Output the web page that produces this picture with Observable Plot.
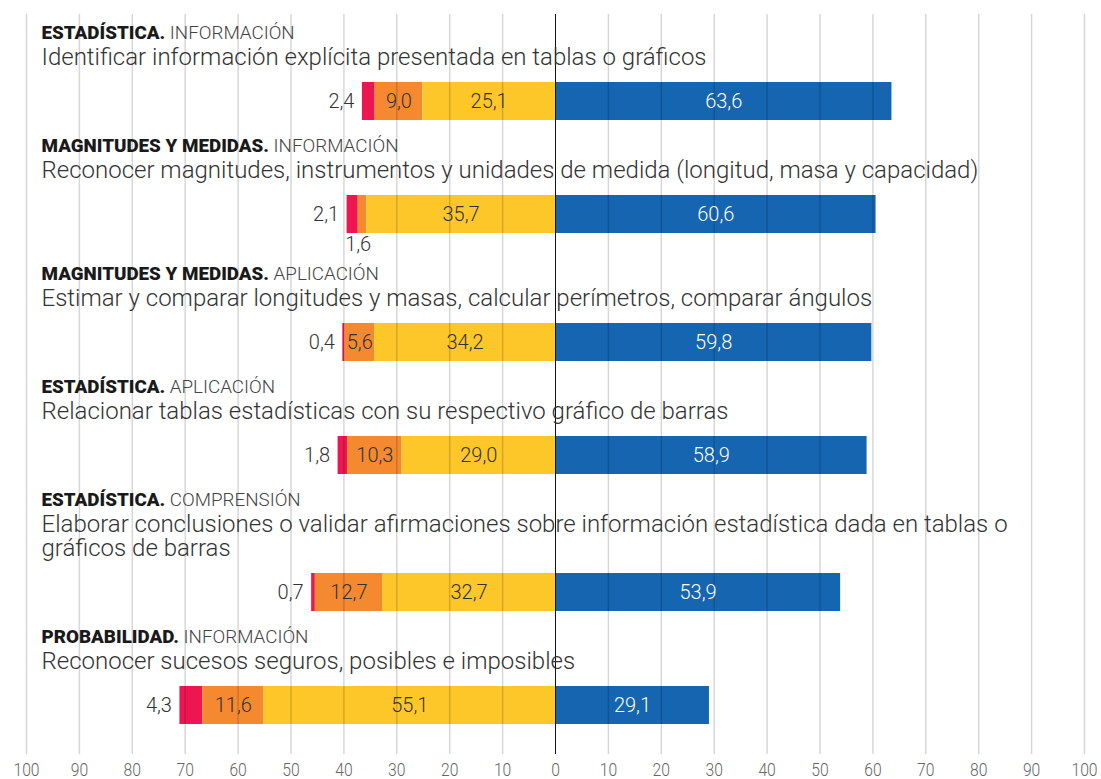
<!DOCTYPE html>
<html><head><meta charset="utf-8">
<script src="https://cdn.jsdelivr.net/npm/d3@7"></script>
<script src="https://cdn.jsdelivr.net/npm/@observablehq/plot@0.6"></script>
<style>
body{margin:0;background:#fff;font-family:Roboto,sans-serif;}
#chart svg{display:block;}
</style></head><body><div id="chart"></div>
<script>
// ---- data ----
const categories = ["ESTADÍSTICA.", "MAGNITUDES Y MEDIDAS.", "MAGNITUDES Y MEDIDAS.", "ESTADÍSTICA.", "ESTADÍSTICA.", "PROBABILIDAD."];
const processes = ["INFORMACIÓN", "INFORMACIÓN", "APLICACIÓN", "APLICACIÓN", "COMPRENSIÓN", "INFORMACIÓN"];
const descriptions = [
  "Identificar información explícita presentada en tablas o gráficos",
  "Reconocer magnitudes, instrumentos y unidades de medida (longitud, masa y capacidad)",
  "Estimar y comparar longitudes y masas, calcular perímetros, comparar ángulos",
  "Relacionar tablas estadísticas con su respectivo gráfico de barras",
  "Elaborar conclusiones o validar afirmaciones sobre información estadística dada en tablas o\ngráficos de barras",
  "Reconocer sucesos seguros, posibles e imposibles"
];
const nivel1 = [2.4, 2.1, 0.4, 1.8, 0.7, 4.3];     // rojo
const nivel2 = [9.0, 1.6, 5.6, 10.3, 12.7, 11.6];  // naranja
const nivel3 = [25.1, 35.7, 34.2, 29.0, 32.7, 55.1]; // amarillo
const nivel4 = [63.6, 60.6, 59.8, 58.9, 53.9, 29.1]; // azul
const xTicks = d3.range(-100, 101, 10);
const seriesKeys = ["nivel1", "nivel2", "nivel3", "nivel4"];
const seriesColors = ["#ee1651", "#f5892f", "#fdc72a", "#1565b0"];

// ---- layout helpers ----
const W = 1101, H = 779, mTop = 14, mBottom = 25;
const firstBarCenter = 101, rowStep = 113, lineStep = 24, belowLabelStep = 15, barHalf = 19, smallSegment = 3;
const fmt = v => d3.format(".1f")(v).replace(".", ",");

const rows = categories.map((cat, i) => ({
  cat, proc: processes[i], desc: descriptions[i],
  lines: descriptions[i].split("\n").length,
  r: nivel1[i], o: nivel2[i], yl: nivel3[i], b: nivel4[i]
}));
let c = firstBarCenter;
rows.forEach((d, i) => {
  if (i > 0) c += rowStep + lineStep * (d.lines - 1) + (rows[i - 1].o < smallSegment ? belowLabelStep : 0);
  d.c = c;
  d.catY = c - 63 - lineStep * (d.lines - 1);
  d.descY = c - 37;
});

const segs = [];
rows.forEach(d => {
  segs.push({key: "nivel1", x1: -(d.yl + d.o + d.r), x2: -(d.yl + d.o), v: d.r, c: d.c});
  segs.push({key: "nivel2", x1: -(d.yl + d.o), x2: -d.yl, v: d.o, c: d.c});
  segs.push({key: "nivel3", x1: -d.yl, x2: 0, v: d.yl, c: d.c});
  segs.push({key: "nivel4", x1: 0, x2: d.b, v: d.b, c: d.c});
});
const inside = segs.filter(s => s.key === "nivel3" || s.key === "nivel4" || (s.key === "nivel2" && s.v >= smallSegment));
const outerLabels = segs.filter(s => s.key === "nivel1");
const belowLabels = segs.filter(s => s.key === "nivel2" && s.v < smallSegment);

const chart = Plot.plot({
  width: W, height: H,
  marginLeft: 26, marginRight: 17, marginTop: mTop, marginBottom: mBottom,
  style: {fontFamily: "Roboto, sans-serif", background: "#fff"},
  x: {domain: [-100, 100], ticks: xTicks, tickFormat: d => Math.abs(d), tickSize: 0, tickPadding: 8, label: null},
  y: {type: "linear", domain: [mTop, H - mBottom], range: [mTop, H - mBottom], axis: null},
  color: {type: "ordinal", domain: seriesKeys, range: seriesColors},
  marks: [
    Plot.rectX(segs, {x1: "x1", x2: "x2", y1: d => d.c - barHalf, y2: d => d.c + barHalf, fill: "key"}),
    Plot.ruleX(xTicks.filter(t => t !== 0), {stroke: "#000", strokeOpacity: 0.16, strokeWidth: 1.5}),
    Plot.ruleX([0], {stroke: "#111", strokeWidth: 1}),
    Plot.text(rows, {frameAnchor: "left", dx: 15, y: "catY", text: d => d.cat + "|" + d.proc, textAnchor: "start", lineAnchor: "bottom", fontSize: 18.8}),
    Plot.text(rows, {frameAnchor: "left", dx: 15, y: "descY", text: "desc", textAnchor: "start", lineAnchor: "bottom", fontSize: 24, fontWeight: 300, fill: "#333", lineHeight: 1}),
    Plot.text(inside, {x: s => (s.x1 + s.x2) / 2, y: "c", text: s => fmt(s.v), fontSize: 20, fontWeight: 300, fill: s => s.key === "nivel4" ? "#fff" : "#333"}),
    Plot.text(outerLabels, {x: "x1", y: "c", text: s => fmt(s.v), textAnchor: "end", dx: -8, fontSize: 20, fontWeight: 300, fill: "#333"}),
    Plot.text(belowLabels, {x: "x1", y: s => s.c + barHalf, text: s => fmt(s.v), lineAnchor: "top", dy: 3, fontSize: 20, fontWeight: 300, fill: "#333"})
  ]
});

// mixed-weight header line
chart.querySelectorAll("text").forEach(t => {
  if (t.children.length === 0 && t.textContent.includes("|")) {
    const [a, b] = t.textContent.split("|");
    t.textContent = "";
    const s1 = document.createElementNS("http://www.w3.org/2000/svg", "tspan");
    s1.textContent = a; s1.setAttribute("font-weight", "900"); s1.setAttribute("fill", "#1a1a1a");
    const s2 = document.createElementNS("http://www.w3.org/2000/svg", "tspan");
    s2.textContent = " " + b; s2.setAttribute("font-weight", "300"); s2.setAttribute("fill", "#444");
    t.appendChild(s1); t.appendChild(s2);
  }
});
// condensed-looking tick labels
chart.querySelectorAll('g[aria-label^="x-axis"] text').forEach(t => {
  const tr = t.getAttribute("transform");
  t.setAttribute("transform", (tr ? tr + " " : "") + "scale(0.85,1)");
  t.style.fontSize = "18.5px";
  t.style.fontWeight = "300";
  t.style.fill = "#666";
});
document.getElementById("chart").appendChild(chart);
</script></body></html>
